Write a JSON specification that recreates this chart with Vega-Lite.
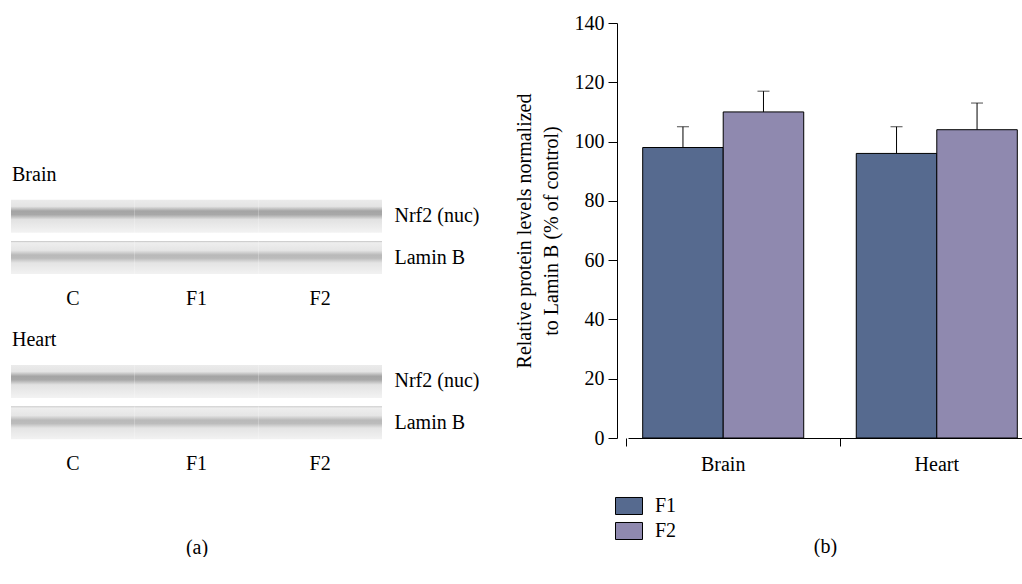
{
  "$schema": "https://vega.github.io/schema/vega-lite/v6.json",
  "background": "white",
  "padding": {"left": 11, "top": 13, "right": 0, "bottom": 0},
  "autosize": {"type": "pad"},
  "spacing": 35,
  "config": {
    "view": {"stroke": null},
    "font": "Liberation Serif",
    "axis": {"labelFont": "Liberation Serif", "titleFont": "Liberation Serif", "labelFontSize": 20, "titleFontSize": 20, "titleFontWeight": "normal", "labelColor": "black", "titleColor": "black", "domainColor": "black", "tickColor": "black", "grid": false},
    "legend": {"labelFont": "Liberation Serif", "labelFontSize": 20, "labelColor": "black"},
    "text": {"font": "Liberation Serif", "fontSize": 20, "color": "black"}
  },
  "datasets": {
    "blots": [
      {"row": "Brain Nrf2", "protein": "Nrf2 (nuc)", "lane": "C"},
      {"row": "Brain Nrf2", "protein": "Nrf2 (nuc)", "lane": "F1"},
      {"row": "Brain Nrf2", "protein": "Nrf2 (nuc)", "lane": "F2"},
      {"row": "Brain Lamin B", "protein": "Lamin B", "lane": "C"},
      {"row": "Brain Lamin B", "protein": "Lamin B", "lane": "F1"},
      {"row": "Brain Lamin B", "protein": "Lamin B", "lane": "F2"},
      {"row": "Heart Nrf2", "protein": "Nrf2 (nuc)", "lane": "C"},
      {"row": "Heart Nrf2", "protein": "Nrf2 (nuc)", "lane": "F1"},
      {"row": "Heart Nrf2", "protein": "Nrf2 (nuc)", "lane": "F2"},
      {"row": "Heart Lamin B", "protein": "Lamin B", "lane": "C"},
      {"row": "Heart Lamin B", "protein": "Lamin B", "lane": "F1"},
      {"row": "Heart Lamin B", "protein": "Lamin B", "lane": "F2"}
    ],
    "tissues": [
      {"row": "Brain", "lane": "C", "label": "Brain"},
      {"row": "Heart", "lane": "C", "label": "Heart"}
    ],
    "lanes": [
      {"row": "Brain lanes", "lane": "C"},
      {"row": "Brain lanes", "lane": "F1"},
      {"row": "Brain lanes", "lane": "F2"},
      {"row": "Heart lanes", "lane": "C"},
      {"row": "Heart lanes", "lane": "F1"},
      {"row": "Heart lanes", "lane": "F2"}
    ],
    "bars": [
      {"tissue": "Brain", "group": "F1", "mean": 98, "upper": 105},
      {"tissue": "Brain", "group": "F2", "mean": 110, "upper": 117},
      {"tissue": "Heart", "group": "F1", "mean": 96, "upper": 105},
      {"tissue": "Heart", "group": "F2", "mean": 104, "upper": 113}
    ]
  },
  "hconcat": [
    {
      "width": 371,
      "height": 477,
      "encoding": {
        "x": {"field": "lane", "type": "nominal", "scale": {"domain": ["C", "F1", "F2"], "paddingInner": 0, "paddingOuter": 0},
              "axis": {"orient": "bottom", "labels": false, "ticks": false, "domain": false, "title": "(a)", "titlePadding": 37}},
        "y": {"field": "row", "type": "nominal",
              "scale": {"domain": ["s1", "s2", "s3", "Brain", "Brain Nrf2", "Brain Lamin B", "Brain lanes", "Heart", "Heart Nrf2", "Heart Lamin B", "Heart lanes"], "paddingInner": 0.2, "paddingOuter": 0.375, "align": 0.374},
              "axis": {"orient": "right", "title": null, "ticks": false, "tickSize": 0, "domain": false, "labelPadding": 12, "labelAlign": "left",
                       "labelExpr": "indexof(datum.value, 'Nrf2') >= 0 ? 'Nrf2 (nuc)' : (indexof(datum.value, 'Lamin') >= 0 ? 'Lamin B' : '')"}}
      },
      "layer": [
        {
          "data": {"name": "blots"},
          "transform": [{"filter": "datum.protein == 'Nrf2 (nuc)'"}],
          "mark": {"type": "rect", "fill": {"gradient": "linear", "x1": 0, "y1": 0, "x2": 0, "y2": 1,
            "stops": [{"offset": 0, "color": "#ebebeb"}, {"offset": 0.2, "color": "#e4e4e4"}, {"offset": 0.34, "color": "#a4a4a4"}, {"offset": 0.45, "color": "#a8a8a8"}, {"offset": 0.6, "color": "#e2e2e2"}, {"offset": 1, "color": "#f3f3f3"}]}}
        },
        {
          "data": {"name": "blots"},
          "transform": [{"filter": "datum.protein == 'Lamin B'"}],
          "mark": {"type": "rect", "fill": {"gradient": "linear", "x1": 0, "y1": 0, "x2": 0, "y2": 1,
            "stops": [{"offset": 0, "color": "#c4c4c4"}, {"offset": 0.05, "color": "#eeeeee"}, {"offset": 0.28, "color": "#e5e5e5"}, {"offset": 0.42, "color": "#b9b9b9"}, {"offset": 0.52, "color": "#bcbcbc"}, {"offset": 0.66, "color": "#e4e4e4"}, {"offset": 1, "color": "#f2f2f2"}]}}
        },
        {
          "data": {"name": "tissues"},
          "mark": {"type": "text", "align": "left", "baseline": "middle", "dx": 1},
          "encoding": {
            "x": {"field": "lane", "type": "nominal", "bandPosition": 0, "title": "(a)"},
            "text": {"field": "label"}
          }
        },
        {
          "data": {"name": "lanes"},
          "mark": {"type": "text", "align": "center", "baseline": "middle"},
          "encoding": {"text": {"field": "lane"}}
        }
      ]
    },
    {
      "width": 394,
      "height": 415,
      "data": {"name": "bars"},
      "encoding": {
        "x": {"field": "tissue", "type": "nominal", "scale": {"paddingInner": 0.246, "paddingOuter": 0.0454, "align": 0.758},
              "axis": {"labelAngle": 0, "tickSize": 8, "bandPosition": -0.1, "labelPadding": 8, "title": "(b)", "titlePadding": 62}},
        "xOffset": {"field": "group", "type": "nominal", "scale": {"paddingInner": 0, "paddingOuter": 0}}
      },
      "layer": [
        {
          "mark": {"type": "rule", "color": "black", "strokeWidth": 1},
          "encoding": {
            "y": {"field": "mean", "type": "quantitative"},
            "y2": {"field": "upper"}
          }
        },
        {
          "mark": {"type": "tick", "color": "black", "size": 12, "thickness": 1},
          "encoding": {"y": {"field": "upper", "type": "quantitative"}}
        },
        {
          "mark": {"type": "bar", "stroke": "black", "strokeWidth": 1},
          "encoding": {
            "y": {"field": "mean", "type": "quantitative", "scale": {"domain": [0, 140]},
                  "axis": {"values": [0, 20, 40, 60, 80, 100, 120, 140], "offset": 11, "tickSize": 9, "labelPadding": 4,
                           "title": ["Relative protein levels normalized", "to Lamin B (% of control)"], "titlePadding": 13, "titleLineHeight": 27}},
            "color": {"field": "group", "type": "nominal", "scale": {"domain": ["F1", "F2"], "range": ["#566a8f", "#8f89af"]},
                      "legend": {"orient": "none", "legendX": 604, "legendY": 469, "title": null, "padding": 0, "rowPadding": 0,
                                 "symbolType": "M-1,-0.63H1V0.63H-1Z", "symbolSize": 729, "symbolStrokeColor": "black", "symbolStrokeWidth": 1, "symbolOpacity": 1, "labelOffset": 12}}
          }
        }
      ]
    }
  ]
}
